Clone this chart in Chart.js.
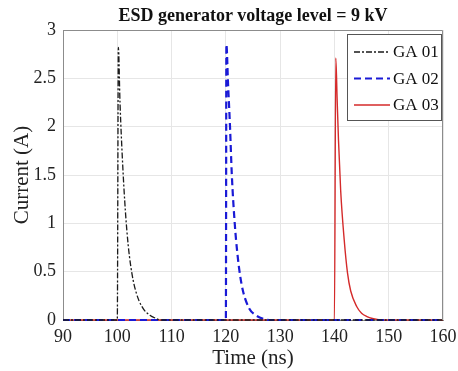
<!DOCTYPE html>
<html>
<head>
<meta charset="utf-8">
<script src="https://cdn.jsdelivr.net/npm/chart.js@4.4.0/dist/chart.umd.min.js"></script>
<style>
  html, body { margin: 0; padding: 0; background: #fff; }
  #wrap { width: 458px; height: 371px; position: relative; }
</style>
</head>
<body>
<div id="wrap"><canvas id="c"></canvas></div>
<script>
// time (ns) and current (A)
const ga01Time = [90, 100, 100.2, 100.5, 101, 101.5, 102, 102.5, 103, 103.5, 104, 105, 106, 107, 108, 160]
const ga01Current = [0, 0, 2.82, 2.25, 1.6, 1.12, 0.78, 0.55, 0.39, 0.28, 0.2, 0.1, 0.05, 0.02, 0, 0]

const ga02Time = [90, 120, 120.1, 120.4, 120.75, 121.1, 121.66, 122.1, 122.6, 123.2, 124.3, 125.5, 127, 128, 160]
const ga02Current = [0, 0, 2.85, 2.45, 2.02, 1.5, 0.98, 0.7, 0.47, 0.29, 0.12, 0.05, 0.01, 0, 0]

const ga03Time = [90, 140, 140.25, 140.5, 140.75, 141.15, 141.8, 142.4, 143, 144.1, 145, 146, 147, 148.5, 160]
const ga03Current = [0, 0, 2.71, 2.28, 1.86, 1.34, 0.83, 0.49, 0.3, 0.14, 0.07, 0.035, 0.015, 0, 0]

const seriesNames = ['GA 01', 'GA 02', 'GA 03']
const xTicks = [90, 100, 110, 120, 130, 140, 150, 160]
const yTicks = [0, 0.5, 1, 1.5, 2, 2.5, 3]

const serif = '"Liberation Serif", "Times New Roman", serif'

const toPoints = (xs, ys) => xs.map((x, i) => ({ x: x, y: ys[i] }))

const boxAndLegend = {
    id: 'boxAndLegend',
    afterDraw(chart) {
        const ctx = chart.ctx
        const a = chart.chartArea
        ctx.save()
        // box on the top and right
        ctx.strokeStyle = '#8c8c8c'
        ctx.lineWidth = 1
        ctx.beginPath()
        ctx.moveTo(a.left, a.top + 0.5)
        ctx.lineTo(a.right - 0.5, a.top + 0.5)
        ctx.lineTo(a.right - 0.5, a.bottom)
        ctx.stroke()

        // title
        ctx.fillStyle = '#111'
        ctx.font = 'bold 18px ' + serif
        ctx.textAlign = 'center'
        ctx.textBaseline = 'alphabetic'
        ctx.fillText('ESD generator voltage level = 9 kV', (a.left + a.right) / 2, 21)

        // legend
        const lx = 347, ly = 34, lw = a.right - 1 - 347, lh = 87
        ctx.fillStyle = '#fff'
        ctx.fillRect(lx, ly, lw, lh)
        ctx.strokeStyle = '#555'
        ctx.strokeRect(lx + 0.5, ly + 0.5, lw - 1, lh - 1)
        ctx.font = '17px ' + serif
        ctx.textAlign = 'left'
        ctx.textBaseline = 'middle'
        chart.data.datasets.forEach((ds, i) => {
            const y = 52 + i * 26.5
            ctx.strokeStyle = ds.borderColor
            ctx.lineWidth = ds.borderWidth
            ctx.setLineDash(ds.borderDash || [])
            ctx.beginPath()
            ctx.moveTo(354, y)
            ctx.lineTo(390, y)
            ctx.stroke()
            ctx.setLineDash([])
            ctx.fillStyle = '#111'
            ctx.fillText(ds.label, 393, y + 1)
        })
        ctx.restore()
    }
}

new Chart(document.getElementById('c'), {
    type: 'line',
    data: {
        datasets: [
            {
                label: seriesNames[0],
                data: toPoints(ga01Time, ga01Current),
                borderColor: '#1a1a1a',
                borderWidth: 1.3,
                borderDash: [6, 2, 2, 2],
            },
            {
                label: seriesNames[1],
                data: toPoints(ga02Time, ga02Current),
                borderColor: '#1a1ad6',
                borderWidth: 2.2,
                borderDash: [7, 4],
            },
            {
                label: seriesNames[2],
                data: toPoints(ga03Time, ga03Current),
                borderColor: '#d42a2a',
                borderWidth: 1.4,
                borderDash: [],
            },
        ].map(ds => Object.assign(ds, {
            pointRadius: 0,
            fill: false,
            clip: false,
            cubicInterpolationMode: 'monotone',
        })),
    },
    options: {
        responsive: true,
        maintainAspectRatio: false,
        animation: false,
        layout: { padding: { top: 30, right: 15, left: 0, bottom: 0 } },
        plugins: {
            legend: { display: false },
            tooltip: { enabled: false },
            title: { display: false },
        },
        scales: {
            x: {
                type: 'linear',
                min: 90,
                max: 160,
                afterBuildTicks: (scale) => { scale.ticks = xTicks.map(v => ({ value: v })) },
                afterFit: (scale) => {
                    scale.height = 51
                    scale.paddingRight = 0
                    scale.paddingLeft = 0
                },
                grid: { color: '#e6e6e6', drawTicks: false },
                border: { color: '#8c8c8c' },
                ticks: {
                    color: '#222',
                    padding: 6,
                    maxRotation: 0,
                    font: { family: serif, size: 18 },
                    callback: (v) => String(v),
                },
                title: {
                    display: true,
                    text: 'Time (ns)',
                    color: '#222',
                    font: { family: serif, size: 21 },
                    padding: { top: 0, bottom: 0 },
                },
            },
            y: {
                min: 0,
                max: 3,
                afterBuildTicks: (scale) => { scale.ticks = yTicks.map(v => ({ value: v })) },
                afterFit: (scale) => {
                    scale.width = 63
                    scale.paddingTop = 0
                    scale.paddingBottom = 0
                },
                grid: { color: '#e6e6e6', drawTicks: false },
                border: { color: '#8c8c8c' },
                ticks: {
                    color: '#222',
                    padding: 7,
                    font: { family: serif, size: 18 },
                    callback: (v) => String(v),
                },
                title: {
                    display: true,
                    text: 'Current (A)',
                    color: '#222',
                    font: { family: serif, size: 21 },
                    padding: { top: 10, bottom: 0 },
                },
            },
        },
    },
    plugins: [boxAndLegend],
})
</script>
</body>
</html>
